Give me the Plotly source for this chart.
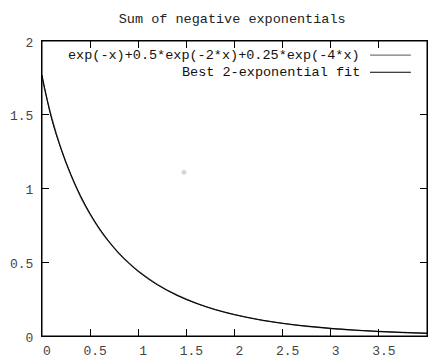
import plotly.graph_objects as go

x_vals = [0, 0.1, 0.2, 0.3, 0.4, 0.5, 0.6, 0.7, 0.8, 0.9, 1.0, 1.2, 1.4, 1.6, 1.8,
          2.0, 2.25, 2.5, 2.75, 3.0, 3.25, 3.5, 3.75, 4.0]
sum_exp = [1.75, 1.482, 1.266, 1.091, 0.945, 0.824, 0.722, 0.635, 0.560, 0.496,
           0.440, 0.349, 0.278, 0.223, 0.179, 0.145, 0.111, 0.0855, 0.066, 0.051,
           0.0395, 0.0307, 0.0238, 0.0185]
fit_2exp = [1.77, 1.472, 1.264, 1.094, 0.951, 0.829, 0.725, 0.637, 0.561, 0.495,
            0.438, 0.346, 0.276, 0.222, 0.179, 0.145, 0.1115, 0.086, 0.0665, 0.0515,
            0.0398, 0.0308, 0.0238, 0.0184]
stray_x = [1.475]
stray_y = [1.11]

series_names = ["exp(-x)+0.5*exp(-2*x)+0.25*exp(-4*x)", "Best 2-exponential fit"]
series_colors = ["#555555", "#000000"]
title_text = "Sum of negative exponentials"
x_range = [0, 4]
y_range = [0, 2]
x_ticks = [0, 0.5, 1, 1.5, 2, 2.5, 3, 3.5, 4]
y_ticks = [0, 0.5, 1, 1.5, 2]

FONT = "Liberation Mono, Courier New, monospace"

fig = go.Figure()
fig.add_trace(go.Scatter(x=x_vals, y=sum_exp, mode="lines", name=series_names[0],
                         line=dict(color=series_colors[0], width=1.4, shape="spline")))
fig.add_trace(go.Scatter(x=x_vals, y=fit_2exp, mode="lines", name=series_names[1],
                         line=dict(color=series_colors[1], width=1, shape="spline")))
fig.add_trace(go.Scatter(x=stray_x, y=stray_y, mode="markers", showlegend=False,
                         marker=dict(color="#d8d8d8", size=5)))

# gnuplot-style key: text right-aligned, line sample to the right
key_rows_y = [0.952, 0.894]
key_colors = ["#777777", "#000000"]
for name, color, yy in zip(series_names, key_colors, key_rows_y):
    fig.add_annotation(xref="paper", yref="paper", x=0.832, y=yy, text=name,
                       showarrow=False, xanchor="right", yanchor="middle",
                       font=dict(family=FONT, size=13.5, color="#111111"))
    fig.add_shape(type="line", xref="paper", yref="paper", x0=0.852, x1=0.958,
                  y0=yy, y1=yy, line=dict(color=color, width=1.2))

# frame around the plot area
fig.add_shape(type="rect", xref="paper", yref="paper", x0=0, x1=1, y0=0, y1=1,
              line=dict(color="black", width=1), layer="above")

fig.update_layout(
    width=430, height=358,
    autosize=False,
    margin=dict(l=42, r=3, t=41, b=22, autoexpand=False),
    paper_bgcolor="white", plot_bgcolor="white",
    showlegend=False,
    title=dict(text=title_text, x=0.54, xanchor="center", y=0.95, yanchor="middle",
               font=dict(family=FONT, size=13.5, color="#222222")),
    font=dict(family=FONT, size=13, color="#444444"),
    xaxis=dict(range=x_range, tickvals=x_ticks, ticktext=[str(v) for v in x_ticks],
               ticks="inside", ticklen=7, tickcolor="black", tickwidth=1,
               showline=True, linecolor="black", linewidth=1, mirror="allticks",
               showgrid=False, zeroline=False, automargin=False,
               ticklabelstandoff=2, ticklabelshift=5),
    yaxis=dict(range=y_range, tickvals=y_ticks, ticktext=[str(v) for v in y_ticks],
               ticks="inside", ticklen=7, tickcolor="black", tickwidth=1,
               showline=True, linecolor="black", linewidth=1, mirror="allticks",
               showgrid=False, zeroline=False, automargin=False,
               ticklabelstandoff=5, ticklabelshift=1),
)

fig.write_html("out.html", config={"displayModeBar": False},
               post_script="document.body.style.margin='0';document.body.style.padding='0';document.documentElement.style.overflow='hidden';")
